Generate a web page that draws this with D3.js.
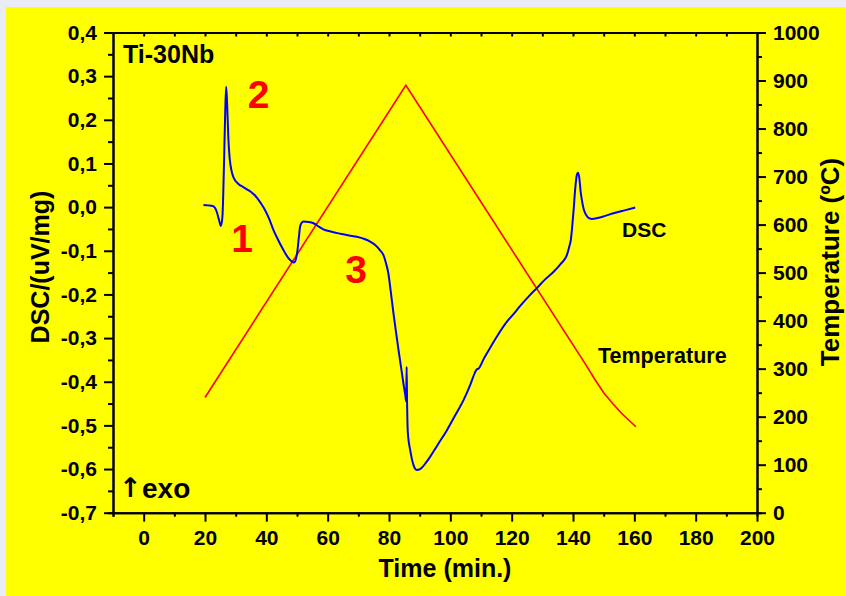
<!DOCTYPE html>
<html>
<head>
<meta charset="utf-8">
<script src="https://cdn.jsdelivr.net/npm/d3@7"></script>
<style>
  body { margin: 0; background: #e9ecf7; }
  svg { display: block; }
  text { font-family: "Liberation Sans", Arial, sans-serif; font-weight: bold; }
</style>
</head>
<body>
<div id="chart"></div>
<script>
// DSC signal (uV/mg) against time (min)
var dscTime = [19.5, 21, 22.7, 23.8, 24.6, 25.2, 25.7, 26.2, 26.6, 26.9, 27.2, 27.6, 28.0, 28.6, 29.3, 30.9, 32.5, 34.1, 35.5, 36.9,
    38.3, 39.6, 41, 42.3, 43.7, 45.0, 46.2, 47.2, 48.2, 49.05, 49.6, 50.1, 50.6, 51.0, 51.5, 52.1, 53.8, 55.4, 57, 58.6,
    61, 64.1, 67, 69.5, 72, 73.85, 75.5, 77.1, 78.2, 79, 79.8, 80.6, 81.45, 82.3, 83.1, 84.0, 84.7, 85.3, 85.6, 85.75,
    85.9, 86.1, 86.5, 86.9, 87.4, 88.0, 88.5, 89.1, 89.9, 90.7, 92, 93.4, 96, 98.9, 101.5, 104.3, 106.5, 108.1, 108.6, 109.2,
    111, 113, 115.5, 118.4, 120.6, 122.8, 125.5, 128.4, 131, 133.7, 136, 138, 138.8, 139.3, 139.8, 140.2, 140.7, 141.2, 141.6, 142.0,
    142.5, 142.9, 143.5, 144.3, 145.2, 146.2, 148, 150.5, 153.2, 156.5, 160.3]
var dscValue = [0.005, 0.004, 0.002, -0.01, -0.03, -0.043, -0.02, 0.1, 0.22, 0.276, 0.24, 0.16, 0.115, 0.085, 0.068, 0.053, 0.046, 0.039, 0.032, 0.022,
    0.008, -0.007, -0.028, -0.052, -0.073, -0.091, -0.106, -0.117, -0.124, -0.127, -0.12, -0.102, -0.07, -0.045, -0.036, -0.033, -0.034, -0.037, -0.044, -0.051,
    -0.056, -0.061, -0.065, -0.068, -0.073, -0.079, -0.087, -0.099, -0.110, -0.128, -0.152, -0.195, -0.243, -0.287, -0.327, -0.37, -0.404, -0.43, -0.445, -0.366,
    -0.45, -0.511, -0.54, -0.556, -0.575, -0.591, -0.599, -0.602, -0.601, -0.597, -0.586, -0.572, -0.543, -0.511, -0.478, -0.442, -0.407, -0.378, -0.372, -0.37,
    -0.346, -0.322, -0.293, -0.263, -0.245, -0.226, -0.205, -0.184, -0.165, -0.148, -0.13, -0.110, -0.09, -0.075, -0.04, -0.007, 0.04, 0.072, 0.079, 0.07,
    0.035, 0.016, -0.005, -0.018, -0.025, -0.027, -0.025, -0.02, -0.014, -0.008, -0.001]

// furnace temperature (ºC) against time (min)
var tempTime = [20, 85.5, 144, 147, 150, 153, 156, 158.5, 160.5]
var tempValue = [240, 890, 310, 279, 250, 227, 206, 191, 179]

var xTicks = [0, 20, 40, 60, 80, 100, 120, 140, 160, 180, 200]
var dscTicks = [-0.7, -0.6, -0.5, -0.4, -0.3, -0.2, -0.1, 0, 0.1, 0.2, 0.3, 0.4]
var tempTicks = [0, 100, 200, 300, 400, 500, 600, 700, 800, 900, 1000]

// peak labels
var peakNames = ["1", "2", "3"]
var peakTime = [32.1, 37.5, 69.3]
var peakDsc = [-0.103, 0.227, -0.174]

var width = 846, height = 596
var plotLeft = 113, plotRight = 757, plotTop = 32.5, plotBottom = 512.7

var svg = d3.select("#chart").append("svg")
    .attr("width", width)
    .attr("height", height)

svg.append("rect").attr("x", 0).attr("y", 0).attr("width", width).attr("height", height).attr("fill", "#e9ecf7")
svg.append("rect").attr("x", 6).attr("y", 7).attr("width", width - 6).attr("height", height - 7).attr("fill", "#ffff00")

var x = d3.scaleLinear().domain([-10, 200]).range([plotLeft, plotRight])
var y = d3.scaleLinear().domain([-0.7, 0.4]).range([plotBottom, plotTop])
var yT = d3.scaleLinear().domain([0, 1000]).range([plotBottom, plotTop])

var comma = function(d) {
    var s = Math.abs(d).toFixed(1).replace(".", ",")
    return (d < -0.001 ? "-" : "") + s
}
var plain = function(d) { return String(d) }

function styleAxis(g, size) {
    g.select(".domain").attr("stroke", "#000").attr("stroke-width", 2)
    g.selectAll(".tick line").attr("stroke", "#000").attr("stroke-width", 2)
    g.selectAll("text").attr("font-size", size).attr("fill", "#000")
        .attr("font-family", "Liberation Sans, Arial, sans-serif").attr("font-weight", "bold")
}

// minor ticks first
var minorX = d3.range(-10, 200, 20)
svg.append("g").attr("transform", "translate(0," + plotBottom + ")")
    .call(d3.axisBottom(x).tickValues(minorX).tickSize(4).tickFormat(""))
    .call(styleAxis, 21)
svg.append("g").attr("transform", "translate(" + plotLeft + ",0)")
    .call(d3.axisLeft(y).tickValues(d3.range(-0.65, 0.4, 0.1)).tickSize(5).tickFormat(""))
    .call(styleAxis, 21)
svg.append("g").attr("transform", "translate(" + plotRight + ",0)")
    .call(d3.axisRight(yT).tickValues(d3.range(50, 1000, 100)).tickSize(5).tickFormat(""))
    .call(styleAxis, 21)

// top axis with small inner ticks
svg.append("g").attr("transform", "translate(0," + plotTop + ")")
    .call(d3.axisBottom(x).tickValues(d3.range(0, 200, 10)).tickSize(4).tickFormat("").tickSizeOuter(0))
    .call(styleAxis, 21)

// major axes
svg.append("g").attr("transform", "translate(0," + plotBottom + ")")
    .call(d3.axisBottom(x).tickValues(xTicks).tickSize(9).tickPadding(8).tickSizeOuter(0).tickFormat(plain))
    .call(styleAxis, 21)
svg.append("g").attr("transform", "translate(" + plotLeft + ",0)")
    .call(d3.axisLeft(y).tickValues(dscTicks).tickSize(9).tickPadding(7).tickSizeOuter(0).tickFormat(comma))
    .call(styleAxis, 21)
svg.append("g").attr("transform", "translate(" + plotRight + ",0)")
    .call(d3.axisRight(yT).tickValues(tempTicks).tickSize(9).tickPadding(7).tickSizeOuter(0).tickFormat(plain))
    .call(styleAxis, 21)

// curves
var tempLine = d3.line()
    .x(function(d, i) { return x(tempTime[i]) })
    .y(function(d) { return yT(d) })
svg.append("path").datum(tempValue)
    .attr("d", tempLine)
    .attr("fill", "none").attr("stroke", "#ff0000").attr("stroke-width", 1.6)

var dscLine = d3.line()
    .x(function(d, i) { return x(dscTime[i]) })
    .y(function(d) { return y(d) })
    .curve(d3.curveMonotoneX)
svg.append("path").datum(dscValue)
    .attr("d", dscLine)
    .attr("fill", "none").attr("stroke", "#0000ff").attr("stroke-width", 2)

// texts
svg.append("text").attr("x", 123).attr("y", 63).attr("font-size", 25).text("Ti-30Nb")
svg.append("text").attr("x", 119).attr("y", 497)
    .attr("font-size", 27).attr("font-weight", "normal")
    .style("font-family", "DejaVu Sans, sans-serif").attr("fill", "#000").text("\u2191")
svg.append("text").attr("x", 142).attr("y", 498).attr("font-size", 28).attr("fill", "#000").text("exo")
svg.append("text").attr("x", 622).attr("y", 237).attr("font-size", 21).text("DSC")
svg.append("text").attr("x", 598).attr("y", 363).attr("font-size", 21.5).text("Temperature")

svg.selectAll(".peak").data(peakNames).enter().append("text")
    .attr("class", "peak")
    .attr("x", function(d, i) { return x(peakTime[i]) })
    .attr("y", function(d, i) { return y(peakDsc[i]) })
    .attr("text-anchor", "middle")
    .attr("font-size", 39)
    .attr("fill", "#ff0000")
    .text(function(d) { return d })

svg.append("text").attr("x", 445).attr("y", 577).attr("text-anchor", "middle").attr("font-size", 25).text("Time (min.)")
svg.append("text").attr("transform", "translate(49,267) rotate(-90)").attr("text-anchor", "middle")
    .attr("font-size", 25).text("DSC/(uV/mg)")
svg.append("text").attr("transform", "translate(839,262) rotate(-90)").attr("text-anchor", "middle")
    .attr("font-size", 26).text("Temperature (\u00baC)")
</script>
</body>
</html>
